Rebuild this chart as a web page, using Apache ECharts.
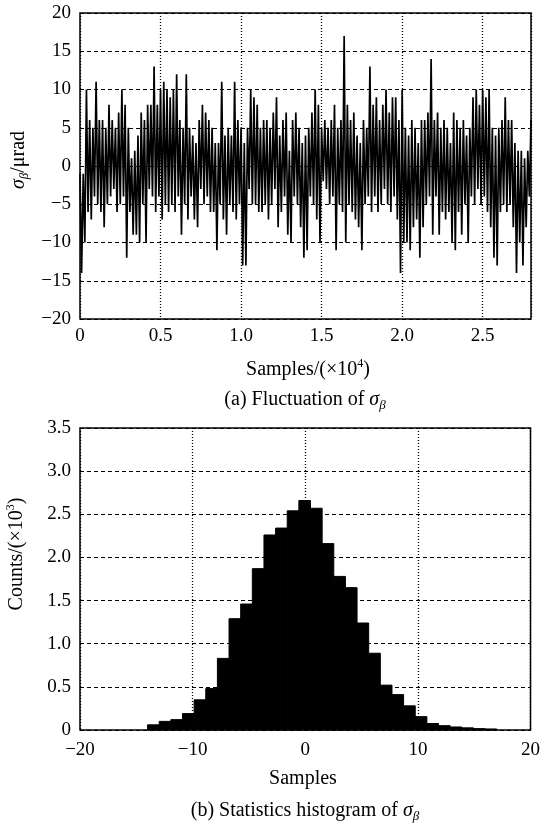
<!DOCTYPE html>
<html>
<head>
<meta charset="utf-8">
<script src="https://cdn.jsdelivr.net/npm/echarts/dist/echarts.min.js"></script>
<style>
html, body { margin: 0; padding: 0; background: #fff; }
#Chart { width: 543px; height: 826px; }
</style>
</head>
<body>
<div id="Chart"></div>
<script>
var Chart = echarts.init(document.getElementById('Chart'));

// (a) sigma_beta, one value every 100 samples (0 .. 2.8 x10^4)
var sampleStep = 0.01;
var sigmaBeta = [
    -1, -14, -1, -10, 10, -6, 6, -7, 5, -4, 11, -5, 6, -6, 6, -8, 5, -5, 8, -4,
    6, -3, 5, -6, 7, -5, 10, -4, 8, -12, 5, -6, 1, -9, 2, -9, 4, -10, 7, -5,
    6, -10, 8, -3, 8, -4, 13, -6, 8, -4, 10, -7, 11, -5, 10, -6,
    9, -5, 10, -6, 12, -4, 6, -9, 5, -5, 12, -7, 5, -4, 4, -7, 3, -8, 6, -3,
    8, -5, 7, -4, 6, -6, 5, -6, 3, -11, 3, -5, 11, -7, 4, -9, 5, -5, 4, -6,
    11, -7, 6, -5, 5, -13, 3, -13, 5, -3, 10, -5, 9, -5, 8, -6,
    5, -6, 6, -5, 6, -7, 5, -5, 7, -3, 9, -8, 4, -6, 6, -4, 7, -9, 2, -10,
    6, -4, 7, -5, 5, -8, 3, -12, 4, -11, 5, -4, 7, -5, 10, -7, 8, -10, 5, -2,
    6, -3, 5, -5, 6, -4, 8, -11, 5, -5, 6, -6, 17, -10, 8, -5,
    6, -6, 7, -7, 4, -8, 3, -11, 6, -5, 5, -4, 13, -6, 8, -4, 9, -6, 6, -5,
    8, -3, 10, -5, 7, -6, 9, -4, 9, -7, 6, -14, 10, -10, 5, -10, 4, -11, 6, -8,
    5, -7, 3, -12, 6, -8, 6, -5, 7, -4, 14, -9, 6, -4, 7, -9,
    5, -6, 6, -7, 5, -6, 3, -10, 7, -11, 6, -6, 5, -9, 6, -5, 4, -10, 5, -4,
    9, -5, 10, -3, 8, -5, 10, -4, 9, -6, 10, -8, 5, -12, 4, -13, 5, -6, 6, -5,
    9, -6, 6, -5, 6, -8, 3, -14, 2, -10, 2, -13, 1, -8, 2, -4, 6
];

// (b) histogram: 30 bins between -14 and 17, counts in x10^3
var histMin = -14;
var histMax = 17;
var histCounts = [
    0.06, 0.10, 0.12, 0.19, 0.35, 0.48, 0.83, 1.29, 1.46, 1.87,
    2.26, 2.34, 2.54, 2.66, 2.57, 2.16, 1.78, 1.65, 1.24, 0.89,
    0.52, 0.41, 0.28, 0.155, 0.075, 0.05, 0.035, 0.025, 0.016, 0.012
];

var FONT = 'Liberation Serif';

var traceData = sigmaBeta.map(function (v, i) {
    return [+(i * sampleStep).toFixed(2), v];
});

var binW = (histMax - histMin) / histCounts.length;
var histData = histCounts.map(function (c, i) {
    return [histMin + i * binW, histMin + (i + 1) * binW, c];
});

function minus(v) {
    return String(v).replace('-', '\u2212');
}
function oneDec(v) {
    return v === 0 ? '0' : v.toFixed(1);
}

var dashed = { color: '#000', width: 1.2, type: [4, 3] };
var dotted = { color: '#000', width: 1.3, type: [1, 2] };

var richStyles = {
    n: { fontFamily: FONT, fontSize: 20, color: '#000', lineHeight: 24 },
    i: { fontFamily: FONT, fontSize: 20, fontStyle: 'italic', color: '#000', lineHeight: 24 },
    sub: { fontFamily: FONT, fontSize: 13, fontStyle: 'italic', color: '#000', lineHeight: 12, verticalAlign: 'bottom' },
    sup: { fontFamily: FONT, fontSize: 12, color: '#000', lineHeight: 14, verticalAlign: 'top' }
};

function label(text, x, y, rot) {
    return {
        type: 'text', x: x, y: y, rotation: rot || 0,
        style: {
            text: text, rich: richStyles, fill: '#000',
            font: '20px "' + FONT + '"',
            align: 'center', verticalAlign: 'middle'
        }
    };
}

var option = {
    animation: false,
    backgroundColor: '#fff',
    grid: [
        { left: 80, top: 13, width: 451, height: 306, show: true, borderColor: '#000', borderWidth: 1.5 },
        { left: 80, top: 428, width: 451, height: 302, show: true, borderColor: '#000', borderWidth: 1.5 }
    ],
    xAxis: [
        {
            type: 'value', gridIndex: 0, min: 0, max: 2.8, interval: 0.5,
            axisLine: { show: false }, axisTick: { show: false },
            axisLabel: { color: '#000', fontFamily: FONT, fontSize: 19, margin: 8, formatter: oneDec, showMaxLabel: false },
            splitLine: { show: true, lineStyle: dotted }
        },
        {
            type: 'value', gridIndex: 1, min: -20, max: 20, interval: 10,
            axisLine: { show: false }, axisTick: { show: false },
            axisLabel: { color: '#000', fontFamily: FONT, fontSize: 19, margin: 11, formatter: minus },
            splitLine: { show: true, lineStyle: dotted }
        }
    ],
    yAxis: [
        {
            type: 'value', gridIndex: 0, min: -20, max: 20, interval: 5,
            axisLine: { show: false }, axisTick: { show: false },
            axisLabel: { color: '#000', fontFamily: FONT, fontSize: 19, margin: 9, formatter: minus },
            splitLine: { show: true, lineStyle: dashed }
        },
        {
            type: 'value', gridIndex: 1, min: 0, max: 3.5, interval: 0.5,
            axisLine: { show: false }, axisTick: { show: false },
            axisLabel: { color: '#000', fontFamily: FONT, fontSize: 19, margin: 9, formatter: oneDec },
            splitLine: { show: true, lineStyle: dashed }
        }
    ],
    series: [
        {
            name: 'sigma', type: 'line', xAxisIndex: 0, yAxisIndex: 0,
            data: traceData, showSymbol: false, sampling: null,
            lineStyle: { color: '#000', width: 1.7, join: 'miter' }
        },
        {
            name: 'hist', type: 'custom', xAxisIndex: 1, yAxisIndex: 1,
            data: histData,
            encode: { x: [0, 1], y: 2 },
            renderItem: function (params, api) {
                var p0 = api.coord([api.value(0), api.value(2)]);
                var p1 = api.coord([api.value(1), 0]);
                return {
                    type: 'rect',
                    shape: { x: p0[0], y: p0[1], width: p1[0] - p0[0], height: p1[1] - p0[1] },
                    style: { fill: '#000', stroke: '#000', lineWidth: 1 }
                };
            }
        }
    ],
    graphic: [
        label('{i|σ}{sub|β}{n|/μrad}', 19, 160, Math.PI / 2),
        label('{n|Samples/(×10}{sup|4}{n|)}', 308, 370),
        label('{n|(a) Fluctuation of }{i|σ}{sub|β}', 305, 400),
        label('{n|Counts/(×10}{sup|3}{n|)}', 17, 554, Math.PI / 2),
        label('{n|Samples}', 303, 779),
        label('{n|(b) Statistics histogram of }{i|σ}{sub|β}', 305, 811)
    ]
};

Chart.setOption(option);
</script>
</body>
</html>
